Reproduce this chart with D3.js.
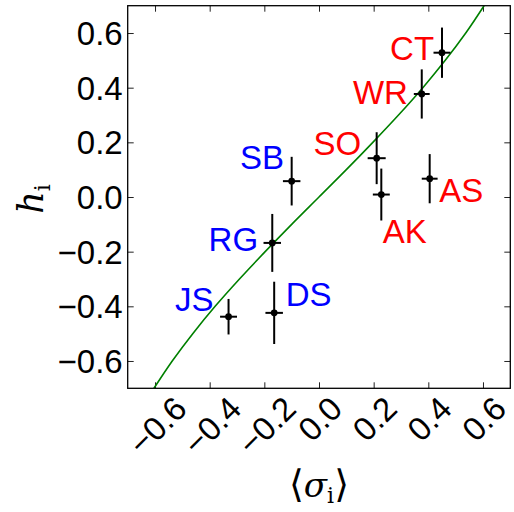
<!DOCTYPE html>
<html><head><meta charset="utf-8">
<script src="https://cdn.jsdelivr.net/npm/d3@7"></script>
<style>
html,body{margin:0;padding:0;background:#fff;}
svg{display:block;}
</style></head>
<body>
<svg id="chart" width="514" height="512"></svg>
<script>
// ---- data ----
const names    = ["CT","WR","SO","AK","AS","SB","RG","DS","JS"];
const group    = ["red","red","red","red","red","blue","blue","blue","blue"];
const sigma    = [0.450, 0.376, 0.211, 0.228, 0.405, -0.100, -0.171, -0.164, -0.331];
const hVal     = [0.528, 0.377, 0.142, 0.009, 0.067, 0.058, -0.168, -0.424, -0.438];
const hErr     = [0.092, 0.090, 0.095, 0.095, 0.090, 0.089, 0.106, 0.114, 0.065];
const sigmaErr = [0.031, 0.029, 0.033, 0.031, 0.029, 0.032, 0.032, 0.032, 0.031];
// label anchors (data coords, left/baseline)
const labelX   = [0.260, 0.124, -0.020, 0.233, 0.440, -0.289, -0.404, -0.122, -0.527];
const labelY   = [0.502, 0.341, 0.154, -0.168, -0.017, 0.101, -0.199, -0.398, -0.418];
// model curve
const curveSigma = [-0.604,-0.537,-0.462,-0.380,-0.291,-0.197,-0.100,0.000,0.100,0.197,0.291,0.380,0.462,0.537,0.604];
const curveH     = [-0.70,-0.60,-0.50,-0.40,-0.30,-0.20,-0.10,0.00,0.10,0.20,0.30,0.40,0.50,0.60,0.70];
const xTicks = [-0.6,-0.4,-0.2,0.0,0.2,0.4,0.6];
const yTicks = [-0.6,-0.4,-0.2,0.0,0.2,0.4,0.6];
const colorMap = {red:"#ff0000", blue:"#0000ff"};

// ---- layout ----
const L = 127.7, R = 510.3, T = 5.7, B = 388.3;
const x = d3.scaleLinear().domain([-0.7,0.7]).range([L,R]);
const y = d3.scaleLinear().domain([-0.7,0.7]).range([B,T]);
const svg = d3.select("#chart");
const fmt = d3.format(".1f");
const FONT = "'Liberation Sans', Arial, Helvetica, sans-serif";

svg.append("defs").append("clipPath").attr("id","clip")
  .append("rect").attr("x",L).attr("y",T).attr("width",R-L).attr("height",B-T);

// axes ticks (inward) on all four sides
const tickLen = 6;
const axB = svg.append("g").attr("transform",`translate(0,${B})`)
  .call(d3.axisBottom(x).tickValues(xTicks).tickSize(-tickLen).tickFormat(""));
const axT = svg.append("g").attr("transform",`translate(0,${T})`)
  .call(d3.axisTop(x).tickValues(xTicks).tickSize(-tickLen).tickFormat(""));
const axL = svg.append("g").attr("transform",`translate(${L},0)`)
  .call(d3.axisLeft(y).tickValues(yTicks).tickSize(-tickLen).tickFormat(""));
const axR = svg.append("g").attr("transform",`translate(${R},0)`)
  .call(d3.axisRight(y).tickValues(yTicks).tickSize(-tickLen).tickFormat(""));
[axB,axT,axL,axR].forEach(a=>{
  a.select(".domain").remove();
  a.selectAll(".tick line").attr("stroke","#222").attr("stroke-width",1);
});

// y tick labels
svg.append("g").selectAll("text").data(yTicks).join("text")
  .attr("x", L-5).attr("y", d=>y(d)).attr("dy","0.36em")
  .attr("text-anchor","end")
  .attr("font-family",FONT).attr("font-size",33).attr("fill","#000")
  .text(d=>fmt(d));

// x tick labels, rotated 45deg
const xl = svg.append("g").selectAll("text").data(xTicks).join("text")
  .attr("text-anchor","middle").attr("dominant-baseline","central")
  .attr("font-family",FONT).attr("font-size",33).attr("fill","#000")
  .text(d=>fmt(d));
xl.each(function(d){
  const w = this.getComputedTextLength();
  const hgt = 38;
  const H = (w + hgt)/Math.SQRT2;
  const cx = x(d) + (d<0?2.5:1);
  const cy = B + 1 + H/2;
  d3.select(this).attr("x",cx).attr("y",cy)
    .attr("transform",`rotate(-45,${cx},${cy})`);
});

// model curve
const pts = curveSigma.map((s,i)=>[s,curveH[i]]);
svg.append("path").datum(pts)
  .attr("clip-path","url(#clip)")
  .attr("fill","none").attr("stroke","#008000").attr("stroke-width",1.6)
  .attr("d", d3.line().x(d=>x(d[0])).y(d=>y(d[1])).curve(d3.curveMonotoneY));

// error bars + points
const idx = d3.range(names.length);
const eb = svg.append("g");
eb.selectAll("line.v").data(idx).join("line").attr("class","v")
  .attr("x1",i=>x(sigma[i])).attr("x2",i=>x(sigma[i]))
  .attr("y1",i=>y(hVal[i]-hErr[i])).attr("y2",i=>y(hVal[i]+hErr[i]))
  .attr("stroke","#000").attr("stroke-width",2);
eb.selectAll("line.h").data(idx).join("line").attr("class","h")
  .attr("x1",i=>x(sigma[i]-sigmaErr[i])).attr("x2",i=>x(sigma[i]+sigmaErr[i]))
  .attr("y1",i=>y(hVal[i])).attr("y2",i=>y(hVal[i]))
  .attr("stroke","#000").attr("stroke-width",2);
eb.selectAll("circle").data(idx).join("circle")
  .attr("cx",i=>x(sigma[i])).attr("cy",i=>y(hVal[i])).attr("r",3.4)
  .attr("fill","#000");

// name labels
svg.append("g").selectAll("text").data(idx).join("text")
  .attr("x",i=>x(labelX[i])).attr("y",i=>y(labelY[i]))
  .attr("font-family",FONT).attr("font-size",33)
  .attr("fill",i=>colorMap[group[i]])
  .text(i=>names[i]);

// frame
svg.append("rect").attr("x",L).attr("y",T).attr("width",R-L).attr("height",B-T)
  .attr("fill","none").attr("stroke","#000").attr("stroke-width",1.3);

// axis labels
const SERIF = "'DejaVu Serif', 'Liberation Serif', serif";
const BR = "'DejaVu Sans', 'DejaVu Serif', serif";
const xlab = svg.append("text").attr("x",319).attr("y",497)
  .attr("text-anchor","middle").attr("font-family",SERIF).attr("font-size",34);
xlab.append("tspan").attr("font-family",BR).attr("font-size",38).attr("font-weight",200).text("\u27E8");
xlab.append("tspan").attr("font-style","italic").text("\u03C3");
xlab.append("tspan").attr("font-size",22).attr("dy",6).text("i");
xlab.append("tspan").attr("dy",-6).attr("font-family",BR).attr("font-size",38).attr("font-weight",200).text("\u27E9");

const ylab = svg.append("text").attr("transform","translate(43,199) rotate(-90)")
  .attr("text-anchor","middle").attr("font-family",SERIF).attr("font-size",35);
ylab.append("tspan").attr("font-style","italic").text("h");
ylab.append("tspan").attr("font-size",22).attr("dy",7).text("i");
</script>
</body></html>
